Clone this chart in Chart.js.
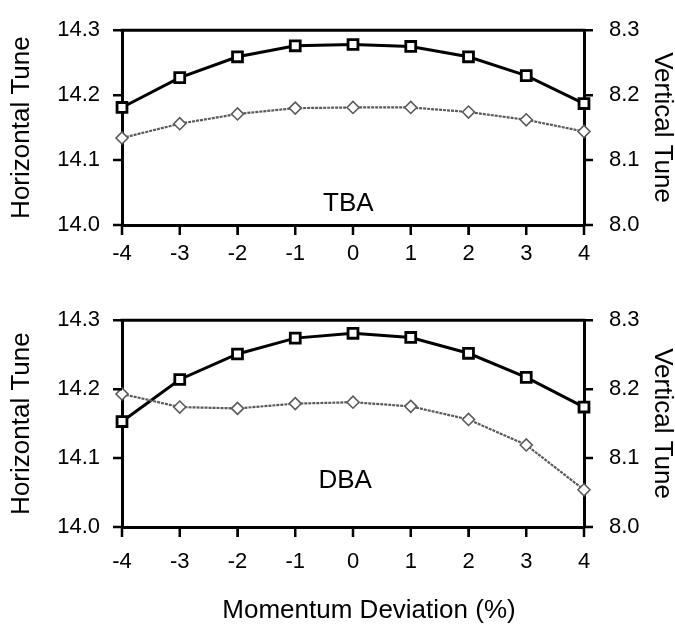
<!DOCTYPE html>
<html>
<head>
<meta charset="utf-8">
<script src="https://cdn.jsdelivr.net/npm/chart.js@4"></script>
<style>
  html, body { margin: 0; padding: 0; background: #fff; }
  #wrap { position: relative; width: 675px; height: 627px; overflow: hidden; }
  canvas { position: absolute; left: 0; }
</style>
</head>
<body>
<div id="wrap">
  <canvas id="top" width="675" height="290" style="top:0"></canvas>
  <canvas id="bot" width="675" height="337" style="top:290px"></canvas>
</div>
<script>
// ---- data ----
const momentumLabels = ['-4', '-3', '-2', '-1', '0', '1', '2', '3', '4'];
const horizontalTicks = [14.0, 14.1, 14.2, 14.3];
const verticalTicks = [8.0, 8.1, 8.2, 8.3];

const tbaHorizontal = [14.181, 14.227, 14.259, 14.276, 14.278, 14.275, 14.259, 14.230, 14.187];
const tbaVertical   = [8.134, 8.156, 8.171, 8.180, 8.181, 8.181, 8.174, 8.162, 8.144];

const dbaHorizontal = [14.153, 14.214, 14.251, 14.274, 14.281, 14.275, 14.252, 14.217, 14.174];
const dbaVertical   = [8.193, 8.174, 8.172, 8.179, 8.181, 8.175, 8.156, 8.119, 8.054];

const FONT = "'Liberation Sans', Arial, Helvetica, sans-serif";
const GRAY = '#5a5a5a';

const framePlugin = {
  id: 'frame',
  afterDraw(chart, args, opts) {
    const ctx = chart.ctx;
    const a = chart.chartArea;
    const xs = chart.scales.x, ys = chart.scales.y, y2 = chart.scales.y2;
    ctx.save();
    ctx.strokeStyle = '#000';
    // top frame line
    ctx.lineWidth = 3;
    ctx.beginPath();
    ctx.moveTo(a.left - 1.5, a.top);
    ctx.lineTo(a.right + 1.5, a.top);
    ctx.stroke();
    // outward tick marks
    ctx.lineWidth = 2.5;
    ctx.beginPath();
    for (let i = 0; i < momentumLabels.length; i++) {
      const px = xs.getPixelForTick(i);
      ctx.moveTo(px, a.bottom);
      ctx.lineTo(px, a.bottom + 10);
    }
    horizontalTicks.forEach(v => {
      const py = ys.getPixelForValue(v);
      ctx.moveTo(a.left, py);
      ctx.lineTo(a.left - 9, py);
    });
    verticalTicks.forEach(v => {
      const py = y2.getPixelForValue(v);
      ctx.moveTo(a.right, py);
      ctx.lineTo(a.right + 9, py);
    });
    ctx.stroke();
    // text
    ctx.fillStyle = '#000';
    ctx.font = '26px ' + FONT;
    ctx.textBaseline = 'alphabetic';
    ctx.textAlign = 'center';
    if (opts.label) {
      const x = a.left + (a.right - a.left) * opts.labelFx;
      const y = ys.getPixelForValue(opts.labelY);
      ctx.fillText(opts.label, x, y);
    }
    if (opts.xTitle) {
      ctx.fillText(opts.xTitle, opts.xTitleX, opts.xTitleY);
    }
    ctx.restore();
  }
};

function makeChart(canvasId, hData, vData, cfg) {
  const ctx = document.getElementById(canvasId).getContext('2d');
  return new Chart(ctx, {
    type: 'line',
    data: {
      labels: momentumLabels,
      datasets: [
        { label: 'Vertical Tune', data: vData, yAxisID: 'y2', borderColor: GRAY, borderWidth: 2.2, borderDash: [3, 1],
          pointStyle: 'rectRot', pointRadius: 6, pointBorderWidth: 1.6, pointBorderColor: GRAY, pointBackgroundColor: '#fff', tension: 0, clip: false },
        { label: 'Vertical cross', data: vData, yAxisID: 'y2', showLine: false, pointStyle: 'cross', pointRadius: 4.5,
          pointBorderWidth: 1.4, pointBorderColor: GRAY, clip: false },
        { label: 'Horizontal Tune', data: hData, yAxisID: 'y', borderColor: '#000', borderWidth: 3, pointStyle: 'rect',
          pointRadius: 7, pointBorderWidth: 2.8, pointBorderColor: '#000', pointBackgroundColor: '#fff', tension: 0, clip: false },
        { label: 'Horizontal dot', data: hData, yAxisID: 'y', showLine: false, pointStyle: 'circle', pointRadius: 1.4,
          pointBorderWidth: 0, pointBackgroundColor: '#000', clip: false }
      ]
    },
    options: {
      responsive: false,
      animation: false,
      devicePixelRatio: 1,
      layout: { padding: { top: cfg.padTop, left: 0, right: 0, bottom: 0 } },
      plugins: { legend: { display: false }, tooltip: { enabled: false }, frame: cfg.frame },
      scales: {
        x: {
          type: 'category', offset: false,
          afterFit: s => { s.height = cfg.xHeight; },
          grid: { display: true, drawOnChartArea: false, drawTicks: true, tickLength: 10, color: '#000', lineWidth: 2, offset: false },
          border: { display: true, color: '#000', width: 3 },
          ticks: { color: '#000', font: { family: FONT, size: 22 }, padding: cfg.xTickPad, maxRotation: 0, autoSkip: false }
        },
        y: {
          position: 'left', min: 14.0, max: 14.3,
          afterBuildTicks: s => { s.ticks = horizontalTicks.map(v => ({ value: v })); },
          afterFit: s => { s.width = 122; },
          grid: { display: true, drawOnChartArea: false, drawTicks: true, tickLength: 8, color: '#000', lineWidth: 2 },
          border: { display: true, color: '#000', width: 3 },
          ticks: { color: '#000', font: { family: FONT, size: 22 }, padding: 14, callback: v => Number(v).toFixed(1) },
          title: { display: true, text: 'Horizontal Tune', color: '#000', font: { family: FONT, size: 26, lineHeight: 1 }, padding: { top: 9, bottom: 0 } }
        },
        y2: {
          position: 'right', min: 8.0, max: 8.3,
          afterBuildTicks: s => { s.ticks = verticalTicks.map(v => ({ value: v })); },
          afterFit: s => { s.width = 91; },
          grid: { display: true, drawOnChartArea: false, drawTicks: true, tickLength: 8, color: '#000', lineWidth: 2 },
          border: { display: true, color: '#000', width: 3 },
          ticks: { color: '#000', font: { family: FONT, size: 22 }, padding: 17, callback: v => Number(v).toFixed(1) },
          title: { display: true, text: 'Vertical Tune', color: '#000', font: { family: FONT, size: 26, lineHeight: 1 }, padding: { top: 0, bottom: 0 } }
        }
      }
    },
    plugins: [framePlugin]
  });
}

makeChart('top', tbaHorizontal, tbaVertical, {
  padTop: 13, xHeight: 65, xTickPad: 6,
  frame: { label: 'TBA', labelFx: 0.49, labelY: 14.021 }
});
makeChart('bot', dbaHorizontal, dbaVertical, {
  padTop: 26, xHeight: 100, xTickPad: 12,
  frame: { label: 'DBA', labelFx: 0.483, labelY: 14.057, xTitle: 'Momentum Deviation (%)', xTitleX: 369, xTitleY: 328 }
});
</script>
</body>
</html>
